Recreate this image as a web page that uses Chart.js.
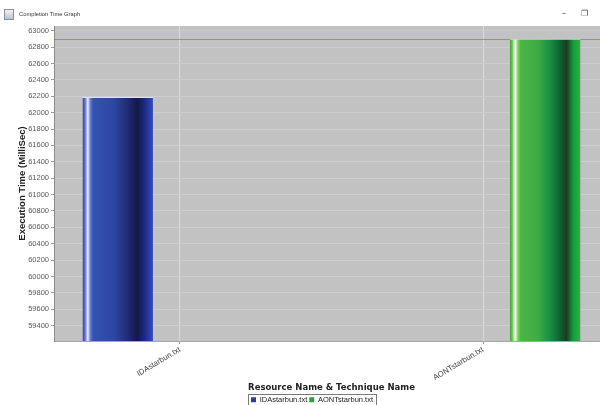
<!DOCTYPE html>
<html>
<head>
<meta charset="utf-8">
<title>Completion Time Graph</title>
<script src="https://cdn.jsdelivr.net/npm/chart.js@4/dist/chart.umd.min.js"></script>
<style>
  html, body { margin: 0; padding: 0; background: #fff; }
  #wrap { position: relative; width: 600px; height: 405px; overflow: hidden; background: #fff; }
  #chart { position: absolute; left: 0; top: 0; }
  .titlebar { position: absolute; left: 0; top: 0; width: 600px; height: 24px; z-index: 2; pointer-events: none;
              font-family: "Liberation Sans", Arial, sans-serif; }
  .titlebar .icon { position: absolute; left: 4px; top: 9px; width: 8px; height: 9px; border: 1px solid #8a8f99;
                    background: linear-gradient(#f2f2f2, #b9c2cf); }
  .titlebar .name { position: absolute; left: 19px; top: 11px; font-size: 5.8px; color: #333; white-space: nowrap; }
  .titlebar .ctl { position: absolute; top: 9px; font-size: 8px; color: #444; font-family: "DejaVu Sans", sans-serif; }
</style>
</head>
<body>
<div id="wrap">
  <canvas id="chart" width="624" height="405"></canvas>
  <div class="titlebar">
    <div class="icon"></div>
    <div class="name">Completion Time Graph</div>
    <div class="ctl" style="left:562px">–</div>
    <div class="ctl" style="left:581px">❐</div>
  </div>
</div>
<script>
// Resource / technique categories along the x axis
const categories = ['IDAstarbun.txt', 'AONTstarbun.txt'];
// Series names shown in the legend
const seriesNames = ['IDAstarbun.txt', 'AONTstarbun.txt'];
// Execution time (ms) per category for each series
const idaValues  = [62190, null];
const aontValues = [null, 62900];
// Range crosshair value
const crosshairValue = 62900;
// Y axis tick labels
const yTickValues = [59400, 59600, 59800, 60000, 60200, 60400, 60600, 60800, 61000,
                     61200, 61400, 61600, 61800, 62000, 62200, 62400, 62600, 62800, 63000];

// Cylinder-like shading stops for each series
const shading = [
  [[0, '#2a3f9e'], [0.04, '#6a7ad0'], [0.075, '#eef0ff'], [0.11, '#6a80d0'], [0.15, '#3553b0'],
   [0.45, '#2c46a4'], [0.65, '#1f2b72'], [0.78, '#13184a'], [0.88, '#1c2a82'], [0.96, '#2a40b0'], [1, '#3050b8']],
  [[0, '#3a9a30'], [0.04, '#86d276'], [0.075, '#f2fff0'], [0.11, '#80d070'], [0.15, '#4cb646'],
   [0.40, '#3dab44'], [0.55, '#1b9344'], [0.70, '#0f6534'], [0.80, '#1d3a1c'], [0.90, '#12a03e'], [1, '#30b040']]
];
const legendColors = ['#2b3f9c', '#2f9e3c'];

const plotBackground = {
  id: 'plotBackground',
  beforeDraw(chart) {
    const { ctx, chartArea: a } = chart;
    ctx.save();
    ctx.fillStyle = '#c2c2c2';
    ctx.fillRect(a.left, a.top, a.right - a.left, a.bottom - a.top);
    ctx.restore();
  },
  beforeDatasetsDraw(chart) {
    const { ctx, chartArea: a, scales } = chart;
    // range crosshair
    const y = Math.round(scales.y.getPixelForValue(crosshairValue)) + 0.5;
    ctx.save();
    ctx.strokeStyle = 'rgba(96,84,236,0.55)';
    ctx.lineWidth = 1;
    ctx.beginPath();
    ctx.moveTo(a.left, y);
    ctx.lineTo(a.right, y);
    ctx.stroke();
    ctx.restore();
    // shaded bar fills, one horizontal gradient per drawn bar
    chart.data.datasets.forEach((ds, di) => {
      chart.getDatasetMeta(di).data.forEach((el, i) => {
        if (ds.data[i].y == null || !isFinite(el.x) || !isFinite(el.width)) return;
        const x0 = el.x - el.width / 2, x1 = el.x + el.width / 2;
        const g = ctx.createLinearGradient(x0, 0, x1, 0);
        shading[di].forEach(([p, c]) => g.addColorStop(p, c));
        el.options = Object.assign({}, el.options, { backgroundColor: g });
      });
    });
  },
  afterDraw(chart) {
    const { ctx, legend } = chart;
    if (!legend || !legend.legendHitBoxes || !legend.legendHitBoxes.length) return;
    const boxes = legend.legendHitBoxes;
    const l = Math.min(...boxes.map(b => b.left)) - 3;
    const r = Math.max(...boxes.map(b => b.left + b.width)) + 3;
    const t = boxes[0].top - 2;
    const h = boxes[0].height + 4;
    ctx.save();
    ctx.strokeStyle = '#7a7a7a';
    ctx.lineWidth = 1;
    ctx.strokeRect(Math.round(l) + 0.5, Math.round(t) + 0.5, Math.round(r - l), Math.round(h));
    ctx.restore();
  }
};

const toPoints = vals => vals.map((v, i) => ({ x: i, y: v }));

new Chart(document.getElementById('chart'), {
  type: 'bar',
  data: {
    datasets: [
      { label: seriesNames[0], data: toPoints(idaValues), backgroundColor: legendColors[0],
        borderColor: 'rgba(225,228,255,0.85)', borderWidth: { top: 1, left: 0, right: 0, bottom: 0 } },
      { label: seriesNames[1], data: toPoints(aontValues), backgroundColor: legendColors[1],
        borderColor: 'rgba(225,255,225,0.85)', borderWidth: { top: 1, left: 0, right: 0, bottom: 0 } }
    ]
  },
  options: {
    responsive: false,
    animation: false,
    events: [],
    categoryPercentage: 0.822,
    barPercentage: 0.566,
    layout: { padding: { top: 26, left: 15, right: 15, bottom: 0 } },
    plugins: {
      tooltip: { enabled: false },
      legend: {
        position: 'bottom',
        maxHeight: 11,
        labels: {
          boxWidth: 5, boxHeight: 5, padding: 2,
          color: '#222',
          font: { family: "'Liberation Sans', Arial, sans-serif", size: 7.5 },
          generateLabels: chart => chart.data.datasets.map((ds, i) => ({
            text: ds.label, fillStyle: legendColors[i], strokeStyle: legendColors[i],
            lineWidth: 0, datasetIndex: i, fontColor: '#222'
          }))
        }
      }
    },
    scales: {
      x: {
        type: 'linear',
        offset: false,
        min: -0.4158,
        max: 1.4158,
        afterBuildTicks: s => { s.ticks = categories.map((c, i) => ({ value: i })); },
        afterFit: s => { s.height = 53; },
        grid: { offset: false, color: '#dcdcdc', tickColor: '#9a9a9a', tickLength: 3 },
        border: { color: '#a6a6a6' },
        ticks: {
          autoSkip: false, minRotation: 31, maxRotation: 31, padding: 1,
          color: '#444',
          font: { family: "'Liberation Sans', Arial, sans-serif", size: 7.8 },
          callback: v => categories[v]
        },
        title: {
          display: true, text: 'Resource Name & Technique Name', color: '#222',
          padding: { top: 0, bottom: 1.5 },
          font: { family: "'DejaVu Sans', sans-serif", size: 8.5, weight: 'bold' }
        }
      },
      y: {
        min: 59213,
        max: 63057,
        afterBuildTicks: s => { s.ticks = yTickValues.map(v => ({ value: v })); },
        afterFit: s => { s.width = 39; },
        grid: { color: '#cecece', tickColor: '#9a9a9a', tickLength: 3 },
        border: { color: '#8c8c8c' },
        ticks: {
          padding: 2, color: '#5a5a5a',
          font: { family: "'Liberation Sans', Arial, sans-serif", size: 7.5 },
          callback: v => String(v)
        },
        title: {
          display: true, text: 'Execution Time (MilliSec)', color: '#222',
          padding: { top: 1.3, bottom: 0 },
          font: { family: "'Liberation Sans', Arial, sans-serif", size: 9.5, weight: 'bold' }
        }
      }
    }
  },
  plugins: [plotBackground]
});
</script>
</body>
</html>
